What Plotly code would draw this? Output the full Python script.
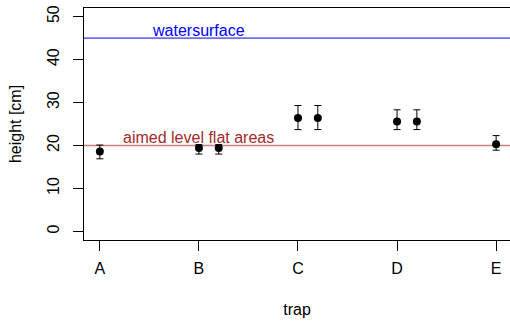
import plotly.graph_objects as go

# ---- data ----
trap_labels = ["A", "B", "C", "D", "E"]
point_trap = ["A", "B", "B", "C", "C", "D", "D", "E"]
point_replicate = [1, 1, 2, 1, 2, 1, 2, 1]
heights = [18.6, 19.4, 19.4, 26.4, 26.4, 25.6, 25.6, 20.3]
err_plus = [1.5, 0.8, 0.8, 2.9, 2.9, 2.7, 2.7, 2.0]
err_minus = [1.7, 1.4, 1.4, 2.7, 2.7, 1.9, 1.9, 1.4]
y_ticks = [0, 10, 20, 30, 40, 50]
water_level = 45
aimed_level = 20

# x position: category index (1-based) plus a dodge per replicate
x_vals = [trap_labels.index(t) + 1 + 0.2 * (r - 1) for t, r in zip(point_trap, point_replicate)]

FONT = "Liberation Sans, Arial, Helvetica, sans-serif"

fig = go.Figure()
fig.add_trace(go.Scatter(
    x=x_vals, y=heights, mode="markers",
    marker=dict(color="black", size=8, symbol="circle"),
    error_y=dict(type="data", symmetric=False, array=err_plus, arrayminus=err_minus,
                 color="black", thickness=1, width=3.5),
    showlegend=False, hoverinfo="skip", cliponaxis=False,
))

fig.add_shape(type="line", xref="paper", x0=0, x1=1, yref="y", y0=water_level, y1=water_level,
              line=dict(color="blue", width=1), layer="below")
fig.add_shape(type="line", xref="paper", x0=0, x1=1, yref="y", y0=aimed_level, y1=aimed_level,
              line=dict(color="rgba(165,42,42,0.6)", width=1.5), layer="below")

fig.add_annotation(x=2, y=water_level + 1.8, text="watersurface", showarrow=False,
                   xanchor="center", yanchor="middle",
                   font=dict(family=FONT, size=16, color="blue"))
fig.add_annotation(x=2, y=aimed_level + 1.8, text="aimed level flat areas", showarrow=False,
                   xanchor="center", yanchor="middle",
                   font=dict(family=FONT, size=16, color="#A52A2A"))

fig.update_layout(
    width=510, height=322,
    margin=dict(l=84, r=0, t=8, b=82),
    paper_bgcolor="white", plot_bgcolor="white",
    font=dict(family=FONT, size=16, color="black"),
    xaxis=dict(
        range=[0.84, 5.14], tickmode="array", tickvals=[1, 2, 3, 4, 5], ticktext=trap_labels,
        ticks="outside", ticklen=10, tickcolor="black", tickwidth=1,
        showline=True, linecolor="black", linewidth=1, mirror=True,
        showgrid=False, zeroline=False, ticklabelstandoff=4, automargin=False,
        title=dict(text="trap", standoff=27, font=dict(family=FONT, size=16)),
    ),
    yaxis=dict(
        range=[-2, 52], tickmode="array", tickvals=y_ticks,
        tickangle=-90, ticks="outside", ticklen=10, tickcolor="black", tickwidth=1,
        showline=True, linecolor="black", linewidth=1, mirror=False,
        showgrid=False, zeroline=False, ticklabelstandoff=8, automargin=False,
        title=dict(text="height [cm]", standoff=18, font=dict(family=FONT, size=16)),
    ),
)

# remove the browser's default 8px body margin so the figure fills the window exactly
fig.write_html("out.html", config={"displayModeBar": False},
               post_script="document.body.style.margin='0';")
